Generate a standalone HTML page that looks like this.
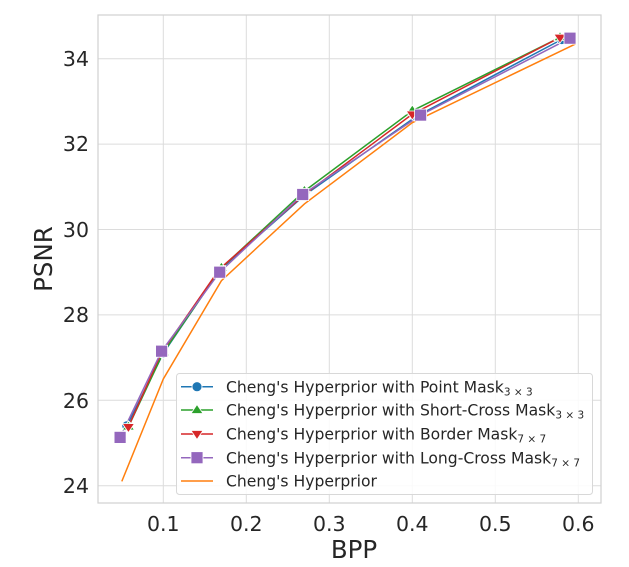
<!DOCTYPE html>
<html><head><meta charset="utf-8"><style>
html,body{margin:0;padding:0;background:#fff;}
svg{display:block;font-family:"DejaVu Sans","Liberation Sans",sans-serif;}
</style></head><body>
<svg width="629" height="567" viewBox="0 0 629 567" xmlns="http://www.w3.org/2000/svg">
<rect width="629" height="567" fill="#fff"/>
<g stroke="#dcdcdc" stroke-width="1">
<line x1="163.3" y1="15" x2="163.3" y2="503"/>
<line x1="246.3" y1="15" x2="246.3" y2="503"/>
<line x1="329.3" y1="15" x2="329.3" y2="503"/>
<line x1="412.3" y1="15" x2="412.3" y2="503"/>
<line x1="495.3" y1="15" x2="495.3" y2="503"/>
<line x1="578.3" y1="15" x2="578.3" y2="503"/>
<line x1="98" y1="485.7" x2="601" y2="485.7"/>
<line x1="98" y1="400.3" x2="601" y2="400.3"/>
<line x1="98" y1="314.9" x2="601" y2="314.9"/>
<line x1="98" y1="229.5" x2="601" y2="229.5"/>
<line x1="98" y1="144.1" x2="601" y2="144.1"/>
<line x1="98" y1="58.7" x2="601" y2="58.7"/>
</g>
<rect x="98" y="15" width="503" height="488" fill="none" stroke="#d0d0d0" stroke-width="1.2"/>
<g font-size="20.5" fill="#262626" text-anchor="end">
<text x="89" y="493">24</text><text x="89" y="408">26</text><text x="89" y="322">28</text>
<text x="89" y="237">30</text><text x="89" y="151">32</text><text x="89" y="66">34</text>
</g>
<g font-size="20.5" fill="#262626" text-anchor="middle">
<text x="163.3" y="531">0.1</text><text x="246.3" y="531">0.2</text><text x="329.3" y="531">0.3</text>
<text x="412.3" y="531">0.4</text><text x="495.3" y="531">0.5</text><text x="578.3" y="531">0.6</text>
<text x="354" y="558" font-size="24.5">BPP</text>
<text transform="translate(52,259) rotate(-90)" font-size="24.5">PSNR</text>
</g>
<g fill="none" stroke-width="1.5">
<polyline stroke="#ff7f0e" points="121.8,481.4 163.3,379.0 221.4,280.7 304.4,203.9 412.3,122.7 575.8,43.8"/>
<polyline stroke="#1f77b4" points="126.8,425.9 163.3,353.3 219.7,270.1 304.4,195.3 416.5,116.3 561.7,39.5"/>
<polyline stroke="#2ca02c" points="128.4,426.8 163.3,352.5 221.4,267.9 304.4,191.1 412.3,110.8 560.0,37.4"/>
<polyline stroke="#d62728" points="128.4,426.8 161.6,352.5 219.7,268.8 304.4,194.5 412.3,114.2 560.0,37.4"/>
<polyline stroke="#9467bd" points="120.1,437.4 161.6,351.2 219.7,272.2 302.7,194.5 420.6,115.1 570.0,38.2"/>
</g>
<g fill="#1f77b4" stroke="#fff" stroke-width="0.8">
<circle cx="126.8" cy="425.9" r="5"/><circle cx="163.3" cy="353.3" r="5"/><circle cx="219.7" cy="270.1" r="5"/><circle cx="304.4" cy="195.3" r="5"/><circle cx="416.5" cy="116.3" r="5"/><circle cx="561.7" cy="39.5" r="5"/>
</g>
<g fill="#2ca02c" stroke="#fff" stroke-width="0.8">
<path d="M128.4,421 l6,9 h-12z"/><path d="M163.3,346.7 l6,9 h-12z"/><path d="M221.4,262.1 l6,9 h-12z"/><path d="M304.4,185.3 l6,9 h-12z"/><path d="M412.3,105 l6,9 h-12z"/><path d="M560,31.6 l6,9 h-12z"/>
</g>
<g fill="#d62728" stroke="#fff" stroke-width="0.8">
<path d="M128.4,432.6 l6,-9 h-12z"/><path d="M161.6,358.3 l6,-9 h-12z"/><path d="M219.7,274.6 l6,-9 h-12z"/><path d="M304.4,200.3 l6,-9 h-12z"/><path d="M412.3,120 l6,-9 h-12z"/><path d="M560,43.2 l6,-9 h-12z"/>
</g>
<g fill="#9467bd" stroke="#fff" stroke-width="0.8">
<rect x="114.1" y="431.4" width="12" height="12"/><rect x="155.6" y="345.2" width="12" height="12"/><rect x="213.7" y="266.2" width="12" height="12"/><rect x="296.7" y="188.5" width="12" height="12"/><rect x="414.6" y="109.1" width="12" height="12"/><rect x="564" y="32.2" width="12" height="12"/>
</g>
<rect x="176.5" y="373.5" width="416" height="121" rx="3" fill="#fff" fill-opacity="0.85" stroke="#d8d8d8"/>
<g stroke-width="1.5">
<line x1="181" y1="386.7" x2="213" y2="386.7" stroke="#1f77b4"/><circle cx="197" cy="386.7" r="5" fill="#1f77b4" stroke="#fff" stroke-width="0.8"/>
<line x1="181" y1="410" x2="213" y2="410" stroke="#2ca02c"/><path d="M197,404.5 l6,9 h-12z" fill="#2ca02c" stroke="#fff" stroke-width="0.8"/>
<line x1="181" y1="434" x2="213" y2="434" stroke="#d62728"/><path d="M197,439.5 l6,-9 h-12z" fill="#d62728" stroke="#fff" stroke-width="0.8"/>
<line x1="181" y1="457.7" x2="213" y2="457.7" stroke="#9467bd"/><rect x="191" y="451.7" width="12" height="12" fill="#9467bd" stroke="#fff" stroke-width="0.8"/>
<line x1="181" y1="481" x2="213" y2="481" stroke="#ff7f0e"/>
</g>
<g font-size="15.6" fill="#262626">
<text x="226" y="392.3">Cheng's Hyperprior with Point Mask<tspan font-size="10.5" dy="3">3 × 3</tspan></text>
<text x="226" y="415.6">Cheng's Hyperprior with Short-Cross Mask<tspan font-size="10.5" dy="3">3 × 3</tspan></text>
<text x="226" y="439.6">Cheng's Hyperprior with Border Mask<tspan font-size="10.5" dy="3">7 × 7</tspan></text>
<text x="226" y="463.3">Cheng's Hyperprior with Long-Cross Mask<tspan font-size="10.5" dy="3">7 × 7</tspan></text>
<text x="226" y="486.6">Cheng's Hyperprior</text>
</g>
</svg>
</body></html>
